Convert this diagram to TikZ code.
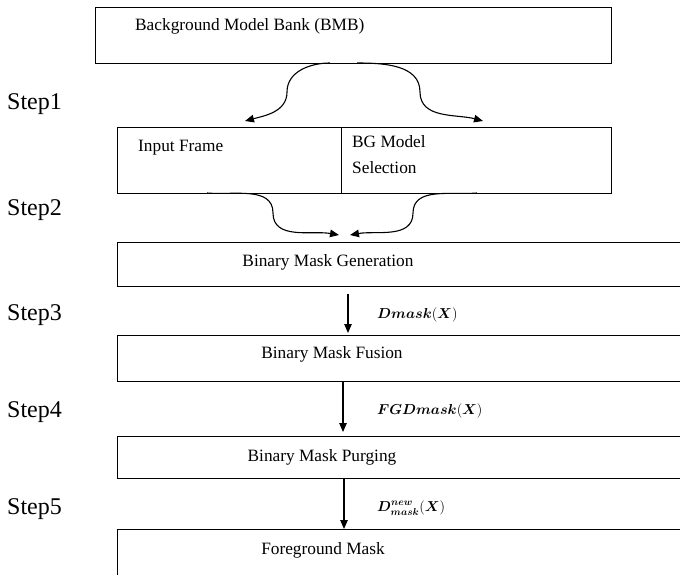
\documentclass[tikz,border=0pt]{standalone}
\usepackage{amsmath,amssymb}
\usepackage{fontspec}
\setmainfont{Liberation Serif}
\usepackage{tikz}
\usetikzlibrary{arrows.meta,positioning,calc}

\begin{document}
\begin{tikzpicture}[
 x=1pt,y=-1pt,
 font=\fontsize{17.3}{26}\selectfont,
 box/.style={draw,line width=1.1pt,anchor=north west,inner sep=0pt},
 txt/.style={inner sep=0pt,align=left},
 stp/.style={inner sep=0pt,anchor=west,font=\fontsize{24}{28}\selectfont},
 lab/.style={inner sep=0pt,anchor=west,font=\fontsize{13.8}{18}\selectfont},
 arr/.style={-{Triangle[length=9pt,width=7.5pt]},line width=1.1pt}
]
\useasboundingbox (0,0) rectangle (680,575);
% boxes
\node[box,minimum width=516,minimum height=56] (bmb) at (95,7) {};
\node[box,minimum width=224,minimum height=66] (inp) at (117,127) {};
\node[box,minimum width=270,minimum height=66] (sel) at (341,127) {};
\node[box,minimum width=600,minimum height=44] (gen) at (117,242) {};
\node[box,minimum width=600,minimum height=46] (fus) at (117,335) {};
\node[box,minimum width=600,minimum height=42] (pur) at (117,436) {};
\node[box,minimum width=600,minimum height=46] (fgd) at (117,529) {};
% texts
\node[txt,anchor=west] (tbmb) at (135,26) {Background Model Bank (BMB)};
\node[txt,anchor=west] (tinp) at (138,148) {Input Frame};
\node[txt,anchor=north west] (tsel) at (352,135) {BG Model\\Selection};
\node[txt] (tgen) at (328,262) {Binary Mask Generation};
\node[txt] (tfus) at (332,354) {Binary Mask Fusion};
\node[txt] (tpur) at (322,457) {Binary Mask Purging};
\node[txt] (tfgd) at (323,550) {Foreground Mask};
% steps
\node[stp] (s1) at (7,104) {Step1};
\node[stp] (s2) at (7,210) {Step2};
\node[stp] (s3) at (7,315) {Step3};
\node[stp] (s4) at (7,412) {Step4};
\node[stp] (s5) at (7,509) {Step5};
% curved links
\coordinate (b1) at (330,63); \coordinate (b2) at (357,63);
\coordinate (m1) at (287,92); \coordinate (m2) at (420,92);
\coordinate (e1) at (245,121); \coordinate (e2) at (483,121);
\draw[arr] (b1) to[out=180,in=90] (m1) to[out=270,in=15] (e1);
\draw[arr] (b2) to[out=0,in=90] (m2) to[out=270,in=165] (e2);
\coordinate (c1) at (207,193); \coordinate (c2) at (477,193);
\coordinate (n1) at (273,213); \coordinate (n2) at (413,213);
\coordinate (f1) at (339,235); \coordinate (f2) at (350,235);
\draw[arr] (c1) to[out=-5,in=90] (n1) to[out=270,in=170] (f1);
\draw[arr] (c2) to[out=185,in=90] (n2) to[out=270,in=10] (f2);
% straight links
\coordinate (x3) at (348,0); \coordinate (x4) at (343,0); \coordinate (x5) at (344,0);
\draw[arr] ([yshift=-7pt]gen.south -| x3) -- ([yshift=2pt]fus.north -| x3);
\draw[arr] (fus.south -| x4) -- ([yshift=4pt]pur.north -| x4);
\draw[arr] (pur.south -| x5) -- (fgd.north -| x5);
\node[lab] (l3) at (377,315) {$\boldsymbol{Dmask}(\boldsymbol{X})$};
\node[lab] (l4) at (377,411) {$\boldsymbol{FGDmask}(\boldsymbol{X})$};
\node[lab] (l5) at (377,508) {$\boldsymbol{D^{new}_{mask}}(\boldsymbol{X})$};
\end{tikzpicture}
\end{document}
